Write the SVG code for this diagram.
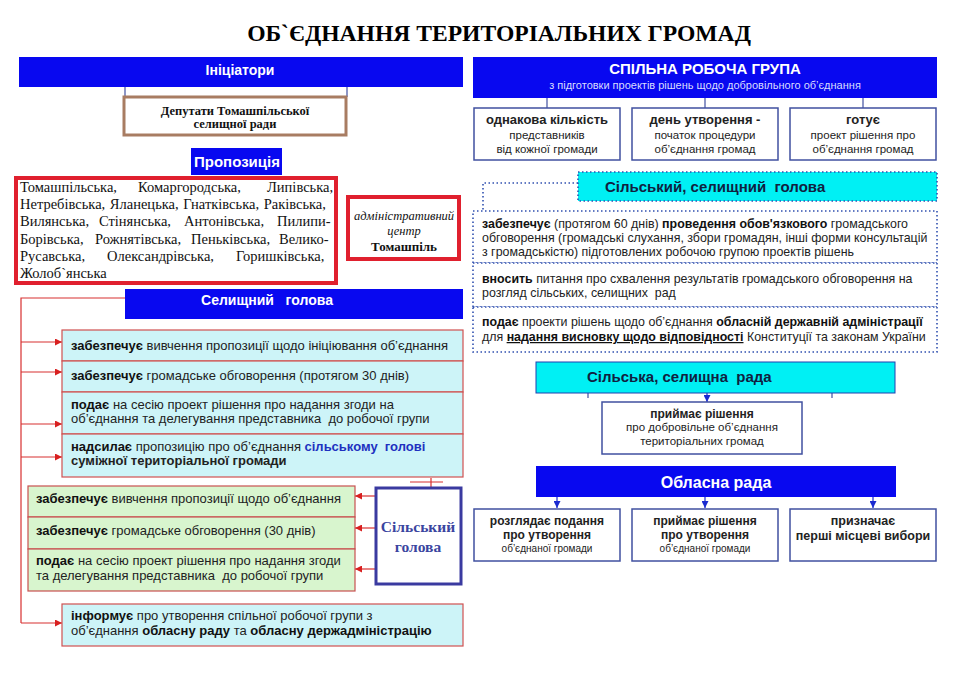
<svg xmlns="http://www.w3.org/2000/svg" width="960" height="673" viewBox="0 0 960 673">
<defs>
<marker id="ar" viewBox="0 0 8 8" refX="8" refY="4" markerWidth="7" markerHeight="7" markerUnits="userSpaceOnUse" orient="auto"><path d="M0,0 L8,4 L0,8 z" fill="#d82020"/></marker>
<marker id="ab" viewBox="0 0 8 8" refX="8" refY="4" markerWidth="7" markerHeight="7" markerUnits="userSpaceOnUse" orient="auto"><path d="M0,0 L8,4 L0,8 z" fill="#1a2ad0"/></marker>
</defs>
<style>
.bar{fill:#0808f0}
.cyan{fill:#00f0f4;stroke:#2040b0;stroke-width:1}
.wt{fill:#fff;font-family:"Liberation Sans",Arial,sans-serif;font-weight:bold}
.s{font-family:"Liberation Sans",Arial,sans-serif;fill:#222}
.sr{font-family:"Liberation Serif","Times New Roman",serif;fill:#111}
.b{font-weight:bold}
.lb{fill:#cdf4f8;stroke:#d05050;stroke-width:1.2}
.gr{fill:#d8f5ce;stroke:#c85050;stroke-width:1.2}
.wb{fill:#fff;stroke:#4050a0;stroke-width:1.5}
.dot{fill:#fff;stroke:#3050b0;stroke-width:1.6;stroke-dasharray:1.5 2.5}
.rl{stroke:#d83030;stroke-width:1.2;fill:none}
.bl{stroke:#4050a0;stroke-width:1.2;fill:none}
.bla{stroke:#1a2ad0;stroke-width:1.2;fill:none}
</style>
<rect width="960" height="673" fill="#fff"/>
<text x="499" y="41" text-anchor="middle" font-family="Liberation Serif,'Times New Roman',serif" font-weight="bold" font-size="23.6" fill="#000">ОБ`ЄДНАННЯ ТЕРИТОРІАЛЬНИХ ГРОМАД</text>

<g id="connectors">
<line class="bl" x1="125" y1="87" x2="125" y2="97"/>
<line class="bl" x1="347" y1="87" x2="347" y2="97"/>
<polyline class="rl" points="125,298 21,298 21,623"/>
<line class="rl" x1="21" y1="342" x2="62" y2="342" marker-end="url(#ar)"/>
<line class="rl" x1="21" y1="372" x2="62" y2="372" marker-end="url(#ar)"/>
<line class="rl" x1="21" y1="424" x2="62" y2="424" marker-end="url(#ar)"/>
<line class="rl" x1="21" y1="457" x2="62" y2="457" marker-end="url(#ar)"/>
<line class="rl" x1="21" y1="623" x2="62" y2="623" marker-end="url(#ar)"/>
<line class="rl" x1="431" y1="478" x2="431" y2="489"/>
<line class="rl" x1="410" y1="482" x2="443" y2="482"/>
<line class="rl" x1="375" y1="496" x2="355" y2="496" marker-end="url(#ar)"/>
<line class="rl" x1="375" y1="528" x2="355" y2="528" marker-end="url(#ar)"/>
<line class="rl" x1="375" y1="569" x2="355" y2="569" marker-end="url(#ar)"/>
<line class="bl" x1="547" y1="98" x2="547" y2="108"/>
<line class="bl" x1="705" y1="98" x2="705" y2="108"/>
<line class="bl" x1="863" y1="98" x2="863" y2="108"/>
<polyline points="578,183 483,183 483,211" fill="none" stroke="#3050b0" stroke-width="1.6" stroke-dasharray="1.5 2.5"/>
<line class="bla" x1="707" y1="393" x2="707" y2="402" marker-end="url(#ab)"/>
<line class="bl" x1="588" y1="393" x2="588" y2="398"/>
<line class="bl" x1="832" y1="393" x2="832" y2="398"/>
<line class="bla" x1="557" y1="497" x2="557" y2="508" marker-end="url(#ab)"/>
<line class="bla" x1="705" y1="497" x2="705" y2="508" marker-end="url(#ab)"/>
<line class="bla" x1="873" y1="497" x2="873" y2="508" marker-end="url(#ab)"/>
</g>

<g id="initiators">
<rect class="bar" x="19" y="57" width="444" height="30"/>
<text class="wt" x="240" y="75" text-anchor="middle" font-size="14">Ініціатори</text>
</g>
<g id="deputies">
<rect x="124" y="97" width="222" height="38" fill="#fff" stroke="#a87c62" stroke-width="3"/>
<text class="sr b" x="235" y="115" text-anchor="middle" font-size="12.5">Депутати Томашпільської</text>
<text class="sr b" x="235" y="128" text-anchor="middle" font-size="12.5">селищної ради</text>
</g>
<g id="proposal">
<rect class="bar" x="191" y="148" width="91" height="27"/>
<text class="wt" x="237" y="167" text-anchor="middle" font-size="15">Пропозиція</text>
</g>
<g id="communities">
<rect x="16" y="178" width="320" height="105" fill="#fff" stroke="#e0202e" stroke-width="4"/>
<g class="sr" font-size="14.5">
<text y="192"><tspan x="20">Томашпільська,</tspan><tspan x="138">Комаргородська,</tspan><tspan x="267">Липівська,</tspan></text>
<text x="20" y="209" word-spacing="1">Нетребівська, Яланецька, Гнатківська, Раківська,</text>
<text y="226"><tspan x="20">Вилянська,</tspan><tspan x="99">Стінянська,</tspan><tspan x="184">Антонівська,</tspan><tspan x="277">Пилипи-</tspan></text>
<text y="244"><tspan x="20">Борівська,</tspan><tspan x="95">Рожнятівська,</tspan><tspan x="191">Пеньківська,</tspan><tspan x="279">Велико-</tspan></text>
<text y="261"><tspan x="20">Русавська,</tspan><tspan x="107">Олександрівська,</tspan><tspan x="236">Горишківська,</tspan></text>
<text y="278"><tspan x="20">Жолоб`янська</tspan></text>
</g>
</g>
<g id="admin-center">
<rect x="348" y="197" width="111" height="62" fill="#fff" stroke="#e0202e" stroke-width="4"/>
<text class="sr" x="404" y="220" text-anchor="middle" font-size="12.5" font-style="italic">адміністративний</text>
<text class="sr" x="404" y="235" text-anchor="middle" font-size="12.5" font-style="italic">центр</text>
<text class="sr b" x="404" y="251" text-anchor="middle" font-size="13">Томашпіль</text>
</g>
<g id="settlement-head">
<rect class="bar" x="125" y="289" width="338" height="30"/>
<text class="wt" x="267" y="305" text-anchor="middle" font-size="14" xml:space="preserve">Селищний   голова</text>
</g>
<g id="sh-1">
<rect class="lb" x="62" y="330" width="401" height="31"/>
<text class="s" x="71" y="350" font-size="13"><tspan class="b" fill="#111">забезпечує</tspan> вивчення пропозиції щодо ініціювання об’єднання</text>
</g>
<g id="sh-2">
<rect class="lb" x="62" y="361" width="401" height="31"/>
<text class="s" x="71" y="380" font-size="13"><tspan class="b" fill="#111">забезпечує</tspan> громадське обговорення (протягом 30 днів)</text>
</g>
<g id="sh-3">
<rect class="lb" x="62" y="392" width="401" height="42"/>
<text class="s" x="71" y="409" font-size="13"><tspan class="b" fill="#111">подає</tspan> на сесію проект рішення про надання згоди на</text>
<text class="s" x="71" y="423" font-size="13" xml:space="preserve">об’єднання та делегування представника  до робочої групи</text>
</g>
<g id="sh-4">
<rect class="lb" x="62" y="434" width="401" height="43"/>
<text class="s" x="71" y="451" font-size="13" xml:space="preserve"><tspan class="b" fill="#111">надсилає</tspan> пропозицію про об’єднання <tspan class="b" fill="#2030c0">сільському  голові</tspan></text>
<text class="s b" x="71" y="465" font-size="13" fill="#2030c0">суміжної територіальної громади</text>
</g>
<g id="vh-1">
<rect class="gr" x="28" y="486" width="327" height="31"/>
<text class="s" x="36" y="503" font-size="13"><tspan class="b" fill="#111">забезпечує</tspan> вивчення пропозиції щодо об’єднання</text>
</g>
<g id="vh-2">
<rect class="gr" x="28" y="517" width="327" height="32"/>
<text class="s" x="36" y="535" font-size="13"><tspan class="b" fill="#111">забезпечує</tspan> громадське обговорення (30 днів)</text>
</g>
<g id="vh-3">
<rect class="gr" x="28" y="549" width="327" height="42"/>
<text class="s" x="36" y="565" font-size="13"><tspan class="b" fill="#111">подає</tspan> на сесію проект рішення про надання згоди</text>
<text class="s" x="36" y="580" font-size="13" xml:space="preserve">та делегування представника  до робочої групи</text>
</g>
<g id="village-head">
<rect x="376" y="488" width="85" height="96" fill="#fff" stroke="#3a3aa0" stroke-width="3"/>
<text x="418" y="532" text-anchor="middle" font-family="Liberation Serif,'Times New Roman',serif" font-weight="bold" font-size="15.5" fill="#3a45a0">Сільський</text>
<text x="418" y="552" text-anchor="middle" font-family="Liberation Serif,'Times New Roman',serif" font-weight="bold" font-size="15.5" fill="#3a45a0">голова</text>
</g>
<g id="sh-5">
<rect class="lb" x="62" y="604" width="401" height="42"/>
<text class="s" x="71" y="620" font-size="13"><tspan class="b" fill="#111">інформує</tspan> про утворення спільної робочої групи з</text>
<text class="s" x="71" y="635" font-size="13">об’єднання <tspan class="b" fill="#111">обласну раду</tspan> та <tspan class="b" fill="#111">обласну держадміністрацію</tspan></text>
</g>

<g id="working-group">
<rect class="bar" x="473" y="57" width="464" height="41"/>
<text class="wt" x="705" y="74" text-anchor="middle" font-size="15">СПІЛЬНА РОБОЧА ГРУПА</text>
<text x="705" y="89" text-anchor="middle" font-family="Liberation Sans,Arial,sans-serif" font-size="11" fill="#d8dcff">з підготовки проектів рішень щодо добровільного об’єднання</text>
</g>
<g id="wg-1">
<rect class="wb" x="474" y="108" width="146" height="52"/>
<text class="s b" x="547" y="124" text-anchor="middle" font-size="13" fill="#111">однакова кількість</text>
<text class="s" x="547" y="139" text-anchor="middle" font-size="11.5">представників</text>
<text class="s" x="547" y="153" text-anchor="middle" font-size="11.5">від кожної громади</text>
</g>
<g id="wg-2">
<rect class="wb" x="632" y="108" width="146" height="52"/>
<text class="s b" x="705" y="124" text-anchor="middle" font-size="13" fill="#111">день утворення -</text>
<text class="s" x="705" y="139" text-anchor="middle" font-size="11.5">початок процедури</text>
<text class="s" x="705" y="153" text-anchor="middle" font-size="11.5">об’єднання громад</text>
</g>
<g id="wg-3">
<rect class="wb" x="790" y="108" width="146" height="52"/>
<text class="s b" x="863" y="124" text-anchor="middle" font-size="13" fill="#111">готує</text>
<text class="s" x="863" y="139" text-anchor="middle" font-size="11.5">проект рішення про</text>
<text class="s" x="863" y="153" text-anchor="middle" font-size="11.5">об’єднання громад</text>
</g>
<g id="head-r">
<rect x="578" y="172" width="359" height="29" fill="#00f0f4" stroke="#3050b0" stroke-width="1.6" stroke-dasharray="1.5 2.5"/>
<text x="605" y="192" font-family="Liberation Sans,Arial,sans-serif" font-weight="bold" font-size="15" fill="#102040" xml:space="preserve">Сільський, селищний  голова</text>
</g>
<g id="hr-1">
<rect class="dot" x="473" y="211" width="464" height="52"/>
<text class="s" x="482" y="228" font-size="12.4"><tspan class="b" fill="#111">забезпечує</tspan> (протягом 60 днів) <tspan class="b" fill="#111">проведення обов'язкового</tspan> громадського</text>
<text class="s" x="482" y="242" font-size="12.4">обговорення (громадські слухання, збори громадян, інші форми консультацій</text>
<text class="s" x="482" y="256" font-size="12.4">з громадськістю) підготовлених робочою групою проектів рішень</text>
</g>
<g id="hr-2">
<rect class="dot" x="473" y="263" width="464" height="44"/>
<text class="s" x="482" y="283" font-size="12.4"><tspan class="b" fill="#111">вносить</tspan> питання про схвалення результатів громадського обговорення на</text>
<text class="s" x="482" y="297" font-size="12.4" xml:space="preserve">розгляд сільських, селищних  рад</text>
</g>
<g id="hr-3">
<rect class="dot" x="473" y="307" width="464" height="45"/>
<text class="s" x="482" y="326" font-size="12.4"><tspan class="b" fill="#111">подає</tspan> проекти рішень щодо об’єднання <tspan class="b" fill="#111">обласній державній адміністрації</tspan></text>
<text class="s" x="482" y="341" font-size="12.4">для <tspan class="b" fill="#111" text-decoration="underline">надання висновку щодо відповідності</tspan> Конституції та законам України</text>
</g>
<g id="council">
<rect class="cyan" x="536" y="362" width="359" height="31"/>
<text x="587" y="382" font-family="Liberation Sans,Arial,sans-serif" font-weight="bold" font-size="15" fill="#102040" xml:space="preserve">Сільська, селищна  рада</text>
</g>
<g id="council-decision">
<rect class="wb" x="602" y="402" width="200" height="52"/>
<text class="s b" x="702" y="418" text-anchor="middle" font-size="12" fill="#111">приймає рішення</text>
<text class="s" x="702" y="431" text-anchor="middle" font-size="11.5">про добровільне об’єднання</text>
<text class="s" x="702" y="445" text-anchor="middle" font-size="11.5">територіальних громад</text>
</g>
<g id="oblast-council">
<rect class="bar" x="536" y="466" width="360" height="31"/>
<text class="wt" x="716" y="488" text-anchor="middle" font-size="16">Обласна рада</text>
</g>
<g id="oc-1">
<rect class="wb" x="474" y="509" width="146" height="52"/>
<text class="s b" x="547" y="525" text-anchor="middle" font-size="12" fill="#111">розглядає подання</text>
<text class="s b" x="547" y="539" text-anchor="middle" font-size="12" fill="#111">про утворення</text>
<text class="s" x="547" y="552" text-anchor="middle" font-size="10">об’єднаної громади</text>
</g>
<g id="oc-2">
<rect class="wb" x="632" y="509" width="146" height="52"/>
<text class="s b" x="705" y="525" text-anchor="middle" font-size="12" fill="#111">приймає рішення</text>
<text class="s b" x="705" y="539" text-anchor="middle" font-size="12" fill="#111">про утворення</text>
<text class="s" x="705" y="552" text-anchor="middle" font-size="10">об’єднаної громади</text>
</g>
<g id="oc-3">
<rect class="wb" x="790" y="509" width="146" height="52"/>
<text class="s b" x="863" y="525" text-anchor="middle" font-size="12.5" fill="#111">призначає</text>
<text class="s b" x="863" y="540" text-anchor="middle" font-size="12.5" fill="#111">перші місцеві вибори</text>
</g>
</svg>
